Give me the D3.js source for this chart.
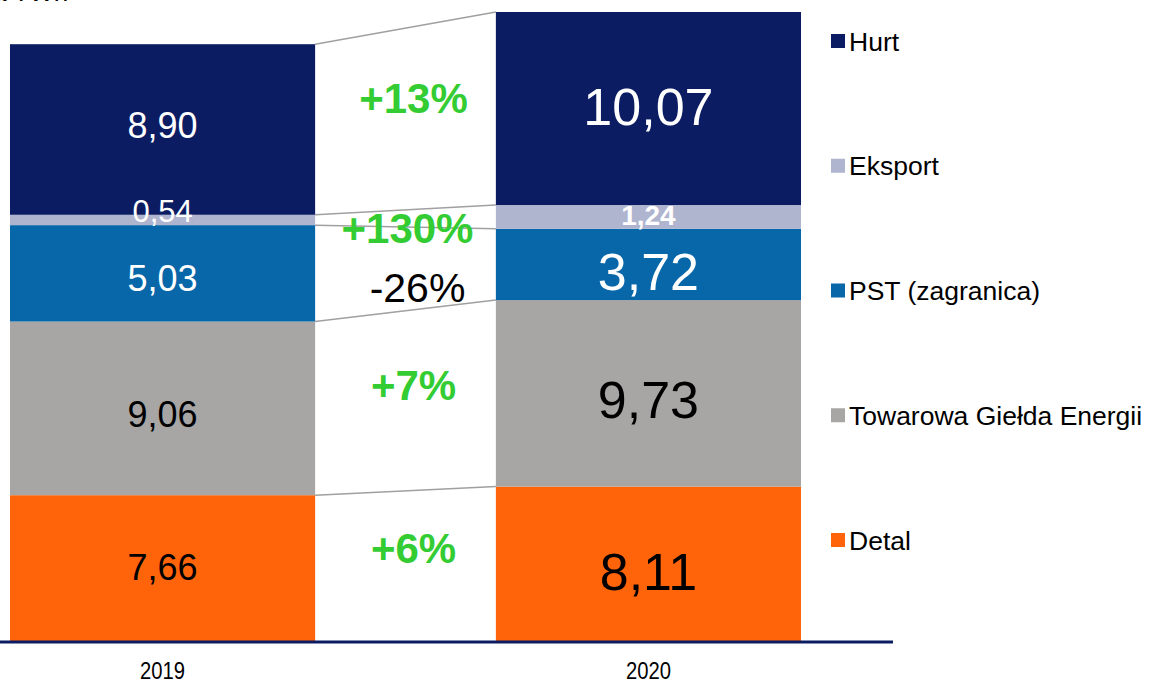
<!DOCTYPE html>
<html>
<head>
  <meta charset="utf-8">
  <title>Wolumen sprzedaży</title>
  <script src="https://d3js.org/d3.v7.min.js"></script>
  <style>
    html, body {
      margin: 0;
      background: #fff;
    }
    * {
      font-family: 'Liberation Sans', Arial, sans-serif;
    }
  </style>
</head>
<body>
  <svg id="chart" width="1150" height="684"></svg>
  <script>
  // data (bottom -> top)
  const years = ["2019", "2020"];
  const series = ["Detal", "Towarowa Giełda Energii", "PST (zagranica)", "Eksport", "Hurt"];
  const values2019 = [7.66, 9.06, 5.03, 0.54, 8.90];
  const values2020 = [8.11, 9.73, 3.72, 1.24, 10.07];
  const valueLabels2019 = ["7,66", "9,06", "5,03", "0,54", "8,90"];
  const valueLabels2020 = ["8,11", "9,73", "3,72", "1,24", "10,07"];
  const changes = ["+6%", "+7%", "-26%", "+130%", "+13%"];
  const colors = ["#ff640a", "#a8a5a5", "#0867a9", "#b0b5cf", "#0c1c63"];

  const svg = d3.select("#chart");

  const x = d3.scaleBand()
    .domain(years)
    .range([10, 801])
    .paddingInner(0.372)
    .paddingOuter(0);

  const total2020 = d3.sum(values2020);
  const y = d3.scaleLinear()
    .domain([0, total2020])
    .range([642, 12]);

  // stack each year
  function stackUp(vals) {
    let acc = 0;
    return vals.map(v => { const s = {y0: acc, y1: acc + v}; acc += v; return s; });
  }
  const stacks = [stackUp(values2019), stackUp(values2020)];
  const labelSets = [valueLabels2019, valueLabels2020];

  // connector lines between bars
  const right0 = x(years[0]) + x.bandwidth();
  const left1 = x(years[1]);
  const edges = series.map((_, i) => ({a: stacks[0][i].y1, b: stacks[1][i].y1}));
  svg.append("g").selectAll("line")
    .data(edges)
    .join("line")
    .attr("x1", right0)
    .attr("x2", left1)
    .attr("y1", d => y(d.a))
    .attr("y2", d => y(d.b))
    .attr("stroke", "#a0a0a0")
    .attr("stroke-width", 1.5);

  // bars
  years.forEach((yr, k) => {
    svg.append("g").selectAll("rect")
      .data(stacks[k])
      .join("rect")
      .attr("x", x(yr))
      .attr("width", x.bandwidth())
      .attr("y", d => y(d.y1))
      .attr("height", d => y(d.y0) - y(d.y1))
      .attr("fill", (d, i) => colors[i]);
  });

  // value labels
  const fontMain = [36, 52];
  const fontSmall = [31, 28];
  const darkText = [true, true, false, false, false];
  const nudge = [[-2, 6, 5, -9, -4], [7, 6, 7, -2, -2]];
  years.forEach((yr, k) => {
    svg.append("g").selectAll("text")
      .data(stacks[k])
      .join("text")
      .attr("x", x(yr) + x.bandwidth() / 2 + ((k === 1 && 0) ? 0 : 0))
      .attr("y", (d, i) => y((d.y0 + d.y1) / 2) + nudge[k][i])
      .attr("dy", "0.36em")
      .attr("text-anchor", "middle")
      .attr("font-size", (d, i) => i === 3 ? fontSmall[k] : fontMain[k])
      .attr("font-weight", (d, i) => (i === 3 && k === 1) ? "bold" : "normal")
      .attr("fill", (d, i) => darkText[i] ? "#000" : "#fff")
      .text((d, i) => labelSets[k][i]);
  });

  // change labels between bars
  const labelNudge = [-19, -16, 18, 9, -21];
  const labelShift = [0, 0, 4, -6, 0];
  svg.append("g").selectAll("text")
    .data(changes)
    .join("text")
    .attr("x", (d, i) => (right0 + left1) / 2 + 8 + labelShift[i])
    .attr("y", (d, i) => {
      const m0 = y((stacks[0][i].y0 + stacks[0][i].y1) / 2);
      const m1 = y((stacks[1][i].y0 + stacks[1][i].y1) / 2);
      return (m0 + m1) / 2 + labelNudge[i];
    })
    .attr("dy", "0.36em")
    .attr("text-anchor", "middle")
    .attr("font-size", d => d.startsWith("-") ? 41 : 42)
    .attr("font-weight", d => d.startsWith("-") ? "normal" : "bold")
    .attr("fill", d => d.startsWith("-") ? "#000" : "#33cc33")
    .text(d => d);

  // baseline
  svg.append("line")
    .attr("x1", 0).attr("x2", 893)
    .attr("y1", y(0)).attr("y2", y(0))
    .attr("stroke", "#0c1c63")
    .attr("stroke-width", 3);

  // x axis labels
  svg.append("g").selectAll("text")
    .data(years)
    .join("text")
    .attr("x", d => x(d) + x.bandwidth() / 2)
    .attr("y", 679)
    .attr("text-anchor", "middle")
    .attr("font-size", 23)
    .attr("textLength", 45)
    .attr("lengthAdjust", "spacingAndGlyphs")
    .attr("fill", "#000")
    .text(d => d);

  // legend (top -> bottom)
  const legendY = d3.scalePoint()
    .domain(series.slice().reverse())
    .range([41, 540]);
  const legend = svg.append("g").selectAll("g")
    .data(series.slice().reverse())
    .join("g")
    .attr("transform", d => `translate(831,${legendY(d)})`);
  legend.append("rect")
    .attr("x", 0).attr("y", -7)
    .attr("width", 14).attr("height", 14)
    .attr("fill", d => colors[series.indexOf(d)]);
  legend.append("text")
    .attr("x", 18)
    .attr("dy", "0.36em")
    .attr("font-size", 26.5)
    .attr("fill", "#000")
    .text(d => d);

  // cut-off title at the very top
  svg.append("text")
    .attr("x", -8)
    .attr("y", 1)
    .attr("font-size", 26)
    .attr("fill", "#000")
    .text("a TWh");
  </script>
</body>
</html>
